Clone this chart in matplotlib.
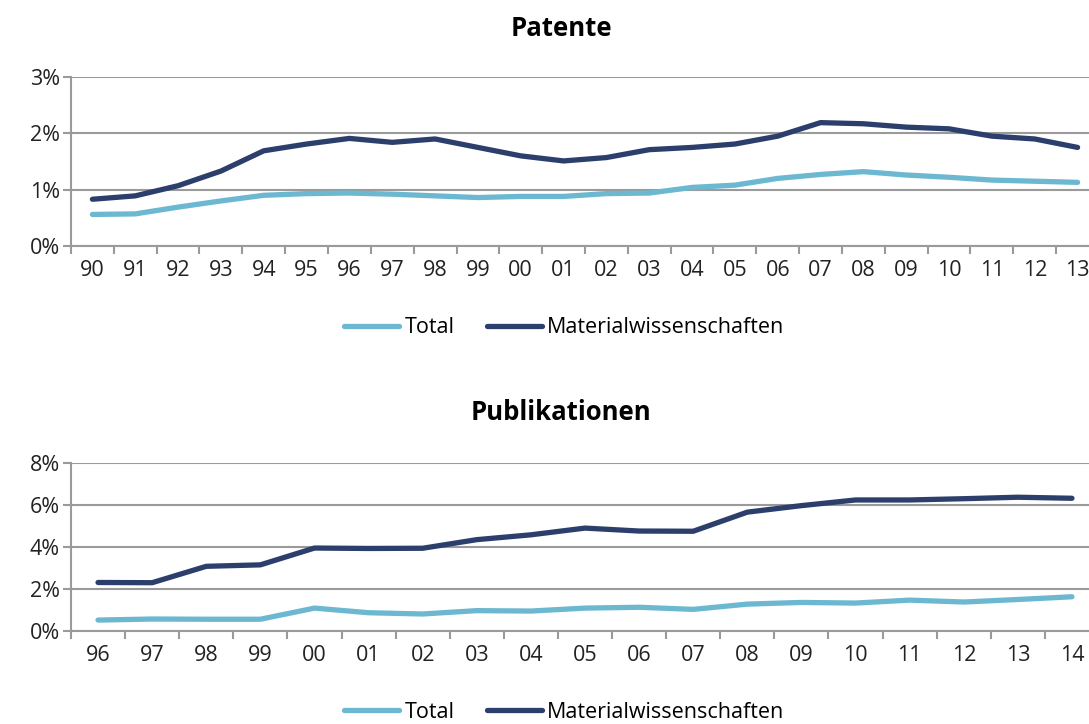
import matplotlib
matplotlib.use("Agg")
import matplotlib.pyplot as plt
from matplotlib.ticker import FuncFormatter
import numpy as np

plt.rcParams['font.family'] = ['Open Sans', 'DejaVu Sans']

# Patente
pat_years = ['90', '91', '92', '93', '94', '95', '96', '97', '98', '99', '00', '01',
             '02', '03', '04', '05', '06', '07', '08', '09', '10', '11', '12', '13']
pat_total = [0.56, 0.57, 0.69, 0.80, 0.90, 0.93, 0.94, 0.92, 0.89, 0.86, 0.88, 0.88,
             0.93, 0.94, 1.04, 1.08, 1.20, 1.27, 1.32, 1.26, 1.22, 1.17, 1.15, 1.13]
pat_mat = [0.83, 0.89, 1.07, 1.33, 1.69, 1.81, 1.91, 1.84, 1.90, 1.75, 1.60, 1.51,
           1.57, 1.71, 1.75, 1.81, 1.95, 2.19, 2.17, 2.11, 2.08, 1.95, 1.90, 1.75]

# Publikationen
pub_years = ['96', '97', '98', '99', '00', '01', '02', '03', '04', '05', '06', '07',
             '08', '09', '10', '11', '12', '13', '14']
pub_total = [0.52, 0.57, 0.56, 0.56, 1.09, 0.87, 0.81, 0.97, 0.95, 1.09, 1.13, 1.03,
             1.28, 1.36, 1.33, 1.47, 1.38, 1.50, 1.63]
pub_mat = [2.31, 2.30, 3.08, 3.15, 3.95, 3.93, 3.94, 4.35, 4.58, 4.90, 4.76, 4.75,
           5.66, 5.97, 6.24, 6.24, 6.30, 6.37, 6.32]

c_total = '#6db8d1'
c_mat = '#2c3e6c'
c_grid = '#9a9a9a'

W, H = 1089, 724
fig = plt.figure(figsize=(W / 100, H / 100), dpi=100)
# axes run past the right edge of the picture, like in the original
ax1 = fig.add_axes([71/W, 1-246/H, 1028/W, 169/H])
ax2 = fig.add_axes([71/W, 1-631/H, 1028/W, 168/H])


def style(ax, cats, total, mat, ymax, ystep, title, title_y, legend_y, tsize):
    x = np.arange(len(cats))
    ax.plot(x, total, color=c_total, lw=3.8, solid_capstyle='round', solid_joinstyle='round', label='Total')
    ax.plot(x, mat, color=c_mat, lw=3.8, solid_capstyle='round', solid_joinstyle='round', label='Materialwissenschaften')
    ax.set_xlim(-0.5, len(cats) - 0.5)
    ax.set_ylim(0, ymax)
    ax.set_yticks(np.arange(0, ymax + 0.01, ystep))
    ax.yaxis.set_major_formatter(FuncFormatter(lambda v, p: '{:.0f}%'.format(v)))
    ax.set_xticks(x)
    ax.set_xticklabels(cats)
    ax.set_xticks(np.arange(-0.5, len(cats), 1), minor=True)
    ax.tick_params(axis='x', which='major', length=0, pad=10, labelsize=15.5, colors='#222222')
    ax.tick_params(axis='x', which='minor', length=6, width=1.5, color=c_grid, direction='out')
    ax.tick_params(axis='y', length=6, width=1.5, color=c_grid, pad=2, labelsize=15.5, labelcolor='#222222')
    ax.grid(axis='y', color=c_grid, lw=1.5)
    ax.set_axisbelow(True)
    for s in ['top', 'right']:
        ax.spines[s].set_visible(False)
    for s in ['left', 'bottom']:
        ax.spines[s].set_color(c_grid)
        ax.spines[s].set_linewidth(1.5)
    fig.text(561/W, title_y, title, fontsize=tsize, fontweight='bold', ha='center', va='center')
    fig.legend(handles=ax.get_lines(), loc='center', bbox_to_anchor=(0.518, legend_y),
               ncol=2, frameon=False, fontsize=15.5, handlelength=2.55, handletextpad=0.25,
               columnspacing=1.5)


style(ax1, pat_years, pat_total, pat_mat, 3, 1, 'Patente', 1-28/H, 1-328/H, 18.5)
style(ax2, pub_years, pub_total, pub_mat, 8, 2, 'Publikationen', 1-413/H, 1-712/H, 18.5)

fig.savefig('out.png', dpi=100)
